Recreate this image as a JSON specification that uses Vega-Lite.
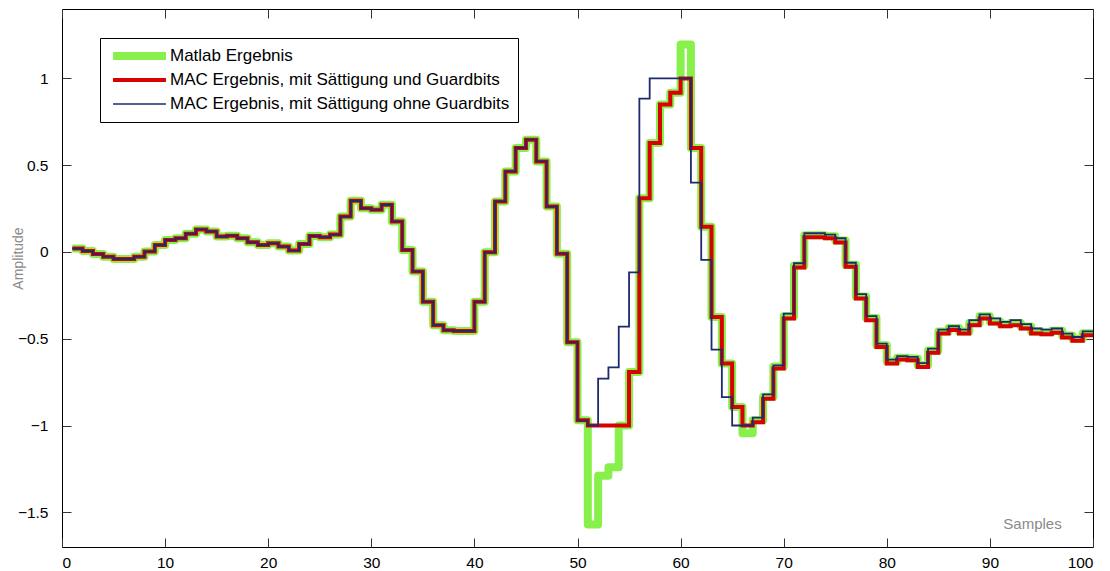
{
  "$schema": "https://vega.github.io/schema/vega-lite/v6.json",
  "width": 1031,
  "height": 538,
  "autosize": "none",
  "padding": {"left": 62, "top": 9, "right": 17, "bottom": 24},
  "background": "#ffffff",
  "config": {
    "view": {"stroke": "#000000", "strokeWidth": 1},
    "font": "Liberation Sans"
  },
  "data": {
    "values": [
      {"n":1,"m":0.02,"r":0.02,"b":0.02},
      {"n":2,"m":0.005,"r":0.005,"b":0.005},
      {"n":3,"m":-0.012,"r":-0.012,"b":-0.012},
      {"n":4,"m":-0.027,"r":-0.027,"b":-0.027},
      {"n":5,"m":-0.04,"r":-0.04,"b":-0.04},
      {"n":6,"m":-0.04,"r":-0.04,"b":-0.04},
      {"n":7,"m":-0.027,"r":-0.027,"b":-0.027},
      {"n":8,"m":0.002,"r":0.002,"b":0.002},
      {"n":9,"m":0.04,"r":0.04,"b":0.04},
      {"n":10,"m":0.069,"r":0.069,"b":0.069},
      {"n":11,"m":0.079,"r":0.079,"b":0.079},
      {"n":12,"m":0.105,"r":0.105,"b":0.105},
      {"n":13,"m":0.13,"r":0.13,"b":0.13},
      {"n":14,"m":0.118,"r":0.118,"b":0.118},
      {"n":15,"m":0.089,"r":0.089,"b":0.089},
      {"n":16,"m":0.094,"r":0.094,"b":0.094},
      {"n":17,"m":0.079,"r":0.079,"b":0.079},
      {"n":18,"m":0.056,"r":0.056,"b":0.056},
      {"n":19,"m":0.04,"r":0.04,"b":0.04},
      {"n":20,"m":0.05,"r":0.05,"b":0.05},
      {"n":21,"m":0.031,"r":0.031,"b":0.031},
      {"n":22,"m":0.008,"r":0.008,"b":0.008},
      {"n":23,"m":0.046,"r":0.046,"b":0.046},
      {"n":24,"m":0.092,"r":0.092,"b":0.092},
      {"n":25,"m":0.085,"r":0.085,"b":0.085},
      {"n":26,"m":0.1,"r":0.1,"b":0.1},
      {"n":27,"m":0.204,"r":0.204,"b":0.204},
      {"n":28,"m":0.295,"r":0.295,"b":0.295},
      {"n":29,"m":0.252,"r":0.252,"b":0.252},
      {"n":30,"m":0.243,"r":0.243,"b":0.243},
      {"n":31,"m":0.272,"r":0.272,"b":0.272},
      {"n":32,"m":0.175,"r":0.175,"b":0.175},
      {"n":33,"m":0.012,"r":0.012,"b":0.012},
      {"n":34,"m":-0.113,"r":-0.113,"b":-0.113},
      {"n":35,"m":-0.287,"r":-0.287,"b":-0.287},
      {"n":36,"m":-0.422,"r":-0.422,"b":-0.422},
      {"n":37,"m":-0.451,"r":-0.451,"b":-0.451},
      {"n":38,"m":-0.455,"r":-0.455,"b":-0.455},
      {"n":39,"m":-0.455,"r":-0.455,"b":-0.455},
      {"n":40,"m":-0.287,"r":-0.287,"b":-0.287},
      {"n":41,"m":-0.002,"r":-0.002,"b":-0.002},
      {"n":42,"m":0.291,"r":0.291,"b":0.291},
      {"n":43,"m":0.464,"r":0.464,"b":0.464},
      {"n":44,"m":0.599,"r":0.599,"b":0.599},
      {"n":45,"m":0.647,"r":0.647,"b":0.647},
      {"n":46,"m":0.522,"r":0.522,"b":0.522},
      {"n":47,"m":0.262,"r":0.262,"b":0.262},
      {"n":48,"m":-0.01,"r":-0.01,"b":-0.01},
      {"n":49,"m":-0.52,"r":-0.52,"b":-0.52},
      {"n":50,"m":-0.97,"r":-0.97,"b":-0.97},
      {"n":51,"m":-1.57,"r":-1.0,"b":-1.0},
      {"n":52,"m":-1.29,"r":-1.0,"b":-0.73},
      {"n":53,"m":-1.24,"r":-1.0,"b":-0.665},
      {"n":54,"m":-1.0,"r":-1.0,"b":-0.43},
      {"n":55,"m":-0.692,"r":-0.692,"b":-0.118},
      {"n":56,"m":0.31,"r":0.31,"b":0.884},
      {"n":57,"m":0.628,"r":0.628,"b":1.0},
      {"n":58,"m":0.85,"r":0.85,"b":1.0},
      {"n":59,"m":0.917,"r":0.917,"b":1.0},
      {"n":60,"m":1.196,"r":1.0,"b":1.0},
      {"n":61,"m":0.599,"r":0.599,"b":0.4},
      {"n":62,"m":0.146,"r":0.146,"b":-0.046},
      {"n":63,"m":-0.374,"r":-0.374,"b":-0.563},
      {"n":64,"m":-0.643,"r":-0.643,"b":-0.836},
      {"n":65,"m":-0.894,"r":-0.894,"b":-1.0},
      {"n":66,"m":-1.045,"r":-1.0,"b":-1.0},
      {"n":67,"m":-0.97,"r":-0.981,"b":-0.955},
      {"n":68,"m":-0.834,"r":-0.846,"b":-0.82},
      {"n":69,"m":-0.66,"r":-0.672,"b":-0.653},
      {"n":70,"m":-0.37,"r":-0.383,"b":-0.355},
      {"n":71,"m":-0.078,"r":-0.09,"b":-0.065},
      {"n":72,"m":0.097,"r":0.085,"b":0.108},
      {"n":73,"m":0.097,"r":0.085,"b":0.108},
      {"n":74,"m":0.09,"r":0.079,"b":0.1},
      {"n":75,"m":0.066,"r":0.054,"b":0.079},
      {"n":76,"m":-0.073,"r":-0.085,"b":-0.062},
      {"n":77,"m":-0.256,"r":-0.268,"b":-0.243},
      {"n":78,"m":-0.381,"r":-0.393,"b":-0.37},
      {"n":79,"m":-0.537,"r":-0.547,"b":-0.528},
      {"n":80,"m":-0.631,"r":-0.643,"b":-0.62},
      {"n":81,"m":-0.61,"r":-0.62,"b":-0.6},
      {"n":82,"m":-0.614,"r":-0.624,"b":-0.605},
      {"n":83,"m":-0.651,"r":-0.663,"b":-0.64},
      {"n":84,"m":-0.568,"r":-0.58,"b":-0.557},
      {"n":85,"m":-0.458,"r":-0.47,"b":-0.447},
      {"n":86,"m":-0.438,"r":-0.45,"b":-0.428},
      {"n":87,"m":-0.458,"r":-0.47,"b":-0.447},
      {"n":88,"m":-0.41,"r":-0.422,"b":-0.393},
      {"n":89,"m":-0.371,"r":-0.383,"b":-0.36},
      {"n":90,"m":-0.4,"r":-0.412,"b":-0.383},
      {"n":91,"m":-0.416,"r":-0.428,"b":-0.403},
      {"n":92,"m":-0.41,"r":-0.422,"b":-0.393},
      {"n":93,"m":-0.429,"r":-0.441,"b":-0.416},
      {"n":94,"m":-0.458,"r":-0.47,"b":-0.441},
      {"n":95,"m":-0.462,"r":-0.474,"b":-0.447},
      {"n":96,"m":-0.454,"r":-0.466,"b":-0.441},
      {"n":97,"m":-0.481,"r":-0.493,"b":-0.47},
      {"n":98,"m":-0.5,"r":-0.512,"b":-0.49},
      {"n":99,"m":-0.468,"r":-0.48,"b":-0.457},
      {"n":100,"m":-0.468,"r":-0.48,"b":-0.457}
    ]
  },
  "transform": [{"fold": ["m", "r", "b"], "as": ["key", "val"]}],
  "resolve": {"axis": {"x": "independent", "y": "independent"}},
  "layer": [
    {
      "transform": [{"filter": "datum.key == 'm'"}],
      "mark": {"type": "line", "interpolate": "step-after", "strokeJoin": "round", "strokeCap": "butt", "strokeWidth": 8},
      "encoding": {
        "x": {"field": "n", "type": "quantitative",
          "scale": {"domain": [0, 100], "nice": false, "zero": false},
          "axis": {"orient": "bottom", "values": [0,10,20,30,40,50,60,70,80,90,100], "tickSize": -9, "labelPadding": 17,
            "domain": false, "grid": false, "labelFontSize": 15.5, "labelColor": "#000000", "tickColor": "#333333",
            "labelFont": "Liberation Sans", "format": "d",
            "title": "Samples", "titleX": 970, "titleY": -24, "titleAlign": "center", "titleBaseline": "middle",
            "titleColor": "#8a8a8a", "titleFontWeight": "normal", "titleFontSize": 15, "titleFont": "Liberation Sans"}},
        "y": {"field": "val", "type": "quantitative",
          "scale": {"domain": [-1.7, 1.4], "nice": false, "zero": false},
          "axis": {"orient": "left", "values": [-1.5,-1,-0.5,0,0.5,1], "tickSize": -9, "labelPadding": 23,
            "domain": false, "grid": false, "labelFontSize": 15.5, "labelColor": "#000000", "tickColor": "#333333",
            "labelFont": "Liberation Sans", "format": "~g",
            "title": "Amplitude", "titleX": -44, "titleY": 249, "titleAngle": 270, "titleAlign": "center", "titleBaseline": "middle",
            "titleColor": "#8a8a8a", "titleFontWeight": "normal", "titleFontSize": 14, "titleFont": "Liberation Sans"}},
        "color": {"field": "key", "type": "nominal",
          "scale": {"domain": ["m", "r", "b"], "range": ["#88f04a", "#d80000", "#1c2a6e"]},
          "legend": {"orient": "none", "legendX": 38, "legendY": 29, "title": null,
            "symbolType": "stroke", "symbolSize": 2800, "clipHeight": 20, "rowPadding": 4, "padding": 8,
            "symbolOffset": 4, "labelOffset": 3, "labelFontSize": 17, "labelFont": "Liberation Sans", "labelColor": "#000000",
            "strokeColor": "#000000", "fillColor": "#ffffff", "labelLimit": 600,
            "labelExpr": "datum.value == 'm' ? 'Matlab Ergebnis' : datum.value == 'r' ? 'MAC Ergebnis, mit Sättigung und Guardbits' : 'MAC Ergebnis, mit Sättigung ohne Guardbits'",
            "encode": {"symbols": {"update": {"strokeWidth": {"signal": "(datum.value == 'm' ? 8 : (datum.value == 'r' ? 4 : 1.5))"}}}}}}
      }
    },
    {
      "transform": [{"filter": "datum.key == 'r'"}],
      "mark": {"type": "line", "interpolate": "step-after", "strokeJoin": "miter", "strokeCap": "butt", "strokeWidth": 4},
      "encoding": {
        "x": {"field": "n", "type": "quantitative",
          "axis": {"orient": "top", "values": [0,10,20,30,40,50,60,70,80,90,100], "tickSize": -9, "labels": false,
            "domain": false, "grid": false, "tickColor": "#333333", "title": null}},
        "y": {"field": "val", "type": "quantitative",
          "axis": {"orient": "right", "values": [-1.5,-1,-0.5,0,0.5,1], "tickSize": -9, "labels": false,
            "domain": false, "grid": false, "tickColor": "#333333", "title": null}},
        "color": {"field": "key", "type": "nominal"}
      }
    },
    {
      "transform": [{"filter": "datum.key == 'b'"}],
      "mark": {"type": "line", "interpolate": "step-after", "strokeJoin": "miter", "strokeCap": "butt", "strokeWidth": 1.8},
      "encoding": {
        "x": {"field": "n", "type": "quantitative", "axis": null},
        "y": {"field": "val", "type": "quantitative", "axis": null},
        "color": {"field": "key", "type": "nominal"}
      }
    }
  ]
}
